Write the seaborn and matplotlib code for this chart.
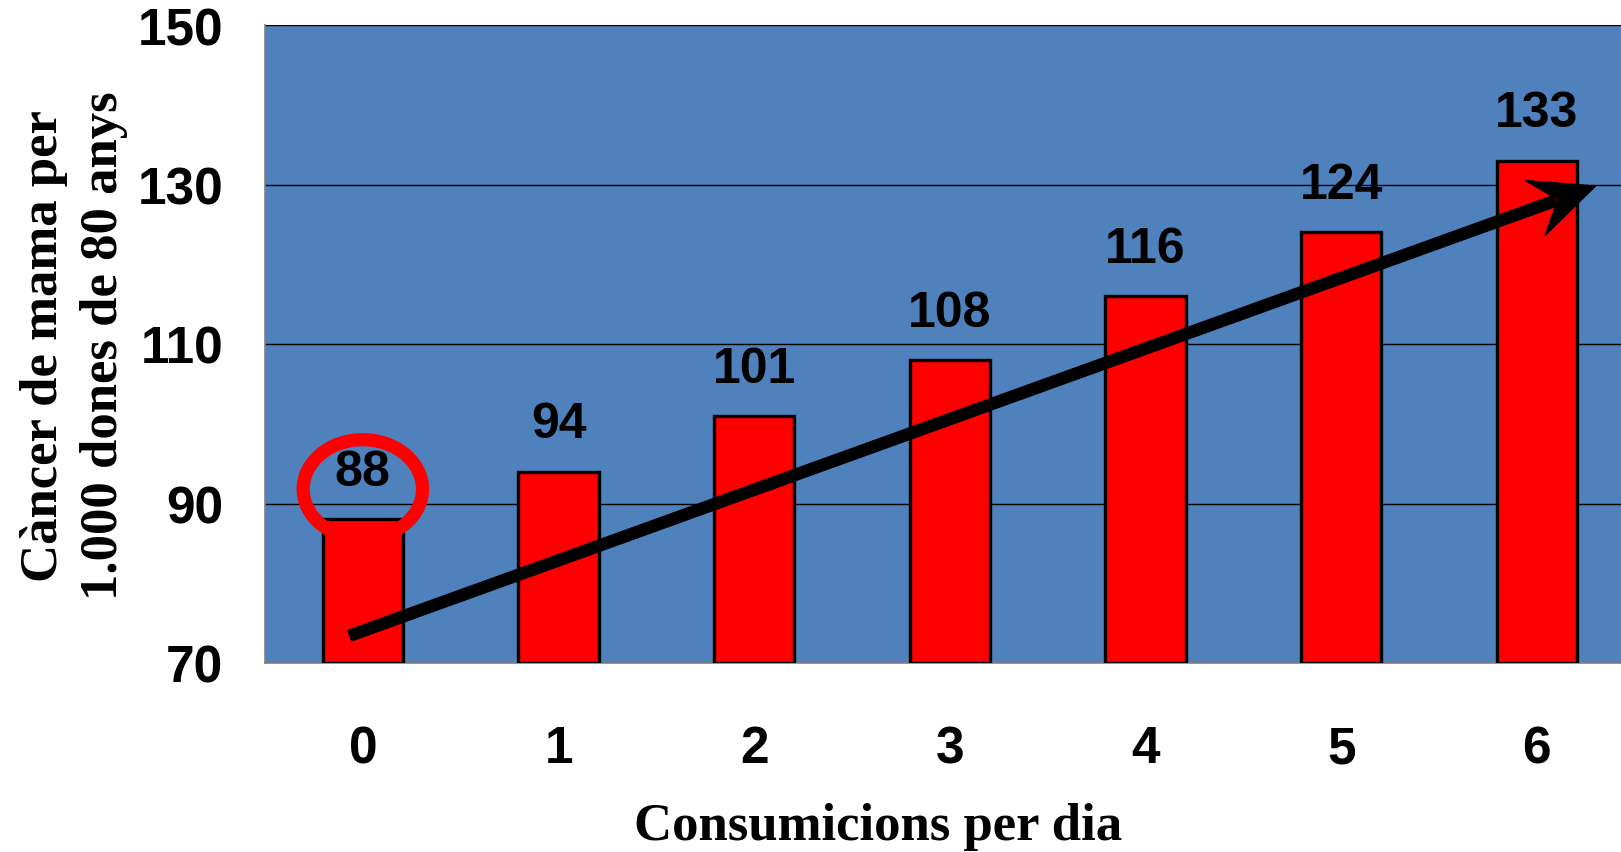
"""
Breast cancer per 1,000 women by age 80 vs. drinks per day
"""

import matplotlib
matplotlib.use("Agg")

import numpy as np
import pandas as pd
import matplotlib.pyplot as plt
from matplotlib.patches import Ellipse, Polygon
from matplotlib.transforms import IdentityTransform
from matplotlib.ticker import FixedLocator
import seaborn as sns

sns.set_style("white")
plt.rcParams["text.color"] = "black"

# ---- data ----
consumicions = ["0", "1", "2", "3", "4", "5", "6"]
casos = [88, 94, 101, 108, 116, 124, 133]
y_ticks = [70, 90, 110, 130, 150]

# annotation positions (data coords)
ARROW_START = (-0.07, 73.4)
ARROW_END = (6.30, 129.8)
CIRCLE_CENTER = (0.0, 91.8)

SANS = ["Liberation Sans", "DejaVu Sans"]
SERIF = ["Liberation Serif", "DejaVu Serif"]

df = pd.DataFrame({"consum": consumicions, "casos": casos})

fig = plt.figure(figsize=(16.21, 8.53), dpi=100)
ax = fig.add_axes([265 / 1621, 189 / 853, 1 - 265 / 1621, (664 - 26) / 853])
ax.set_facecolor("#4F81BD")

sns.barplot(data=df, x="consum", y="casos", color="#FF0000", width=0.41,
            edgecolor="black", linewidth=2.4, saturation=1, ax=ax, zorder=3)

# bars start at the axis floor, like the original
for p, v in zip(ax.patches, casos):
    p.set_y(y_ticks[0])
    p.set_height(v - y_ticks[0])

ax.set_ylim(y_ticks[0], y_ticks[-1])
ax.set_xlim(-0.5, 6.43)
ax.set_yticks(y_ticks)
ax.yaxis.grid(True, color="black", linewidth=1.0, zorder=1)
ax.set_axisbelow(True)

# value labels
for i, v in enumerate(casos):
    ax.annotate(str(v), (i, v), xytext=(0, 34), textcoords="offset points",
                ha="center", va="center", fontsize=36, fontweight="bold",
                family=SANS, color="black", zorder=6)

# red circle around the first bar
circ = Ellipse(CIRCLE_CENTER, width=0.61, height=12.4, fill=False,
               edgecolor="#FF0000", linewidth=9.5, zorder=5)
ax.add_patch(circ)

# trend arrow (stealth style head, built in pixel space)
p0 = ax.transData.transform(ARROW_START)
p1 = ax.transData.transform(ARROW_END)
u = (p1 - p0) / np.hypot(*(p1 - p0))
n = np.array([-u[1], u[0]])
L, W, notch = 64, 29, 40
head = np.array([p1, p1 - L * u + W * n, p1 - notch * u, p1 - L * u - W * n])
ax.add_patch(Polygon(head, closed=True, facecolor="black", edgecolor="black",
                     linewidth=1, transform=IdentityTransform(), zorder=6))
line_end = ax.transData.inverted().transform(p1 - (notch + 2) * u)
ax.plot([ARROW_START[0], line_end[0]], [ARROW_START[1], line_end[1]],
        color="black", lw=9, solid_capstyle="butt", zorder=6)

# spines / ticks
for s in ["top", "right"]:
    ax.spines[s].set_visible(False)
for s in ["left", "bottom"]:
    ax.spines[s].set_color("#808080")
    ax.spines[s].set_linewidth(1.2)

ax.tick_params(axis="y", length=10, width=1.2, color="#808080", pad=20,
               labelcolor="black")
ax.tick_params(axis="x", which="major", length=0, pad=44, labelcolor="black")
ax.xaxis.set_minor_locator(FixedLocator([-0.5, 0.5, 1.5, 2.5, 3.5, 4.5, 5.5]))
ax.tick_params(axis="x", which="minor", length=11, width=1.2, color="#808080")

for lab in ax.get_xticklabels() + ax.get_yticklabels():
    lab.set_fontsize(37)
    lab.set_fontweight("bold")
    lab.set_family(SANS)

ax.set_xlabel("")
ax.set_ylabel("")
fig.text(878 / 1621, 1 - 827 / 853, "Consumicions per dia", ha="center",
         va="center", fontsize=38, fontweight="bold", family=SERIF)
fig.text(74 / 1621, 1 - 346 / 853, "Càncer de mama per\n1.000 dones de 80 anys",
         rotation=90, ha="center", va="center", multialignment="center",
         fontsize=38, fontweight="bold", family=SERIF, linespacing=1.3)

plt.savefig("out.png", dpi=100)
plt.close()
